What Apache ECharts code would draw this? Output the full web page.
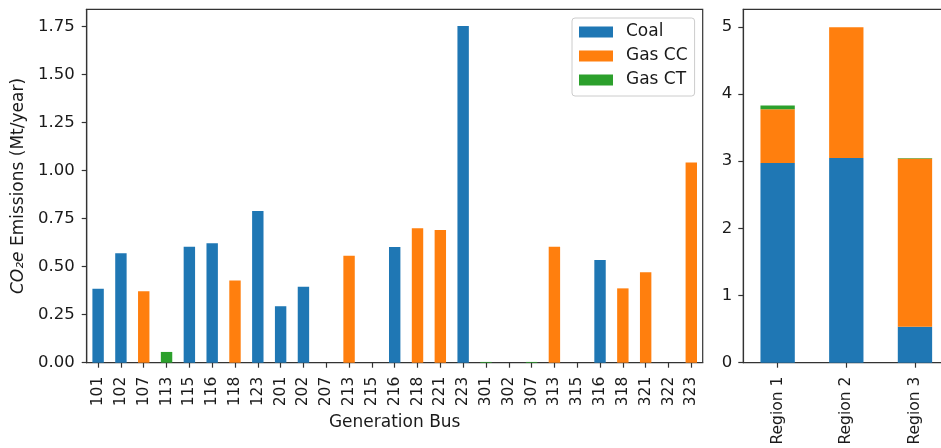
<!DOCTYPE html>
<html>
<head>
<meta charset="utf-8">
<script src="https://cdn.jsdelivr.net/npm/echarts@6/dist/echarts.min.js"></script>
<style>
  html, body { margin: 0; padding: 0; background: #fff; }
  #chart { width: 941px; height: 448px; }
</style>
</head>
<body>
<div id="chart"></div>
<script>
// Annual CO2e emissions per generation bus (Mt/year), split by unit type
const buses = ['101','102','107','113','115','116','118','123',
               '201','202','207','213','215','216','218','221','223',
               '301','302','307','313','315','316','318','321','322','323'];
const coal  = [0.385, 0.570, 0, 0, 0.604, 0.622, 0, 0.790,
               0.294, 0.396, 0, 0, 0, 0.603, 0, 0, 1.753,
               0, 0, 0, 0, 0, 0.535, 0, 0, 0, 0];
const gasCC = [0, 0, 0.372, 0, 0, 0, 0.428, 0,
               0, 0, 0, 0.557, 0, 0, 0.700, 0.691, 0,
               0, 0, 0, 0.604, 0, 0, 0.387, 0.471, 0, 1.042];
const gasCT = [0, 0, 0, 0.056, 0, 0, 0, 0,
               0, 0, 0, 0, 0, 0, 0, 0, 0,
               0.004, 0, 0.004, 0, 0, 0, 0, 0, 0, 0];

const regions = ['Region 1', 'Region 2', 'Region 3'];
const busTicks = [0, 0.25, 0.5, 0.75, 1.0, 1.25, 1.5, 1.75];
const regionTicks = [0, 1, 2, 3, 4, 5];

const COLORS = { coal: '#1f77b4', cc: '#ff7f0e', ct: '#2ca02c' };
const FONT = 'DejaVu Sans';
const INK = '#1a1a1a';
const LINE = '#333333';

// Sum each unit type over the buses of a region (first digit of bus id)
function regionTotals(values) {
  const totals = regions.map(() => 0);
  buses.forEach((b, i) => { totals[Number(b[0]) - 1] += values[i]; });
  return totals.map(v => +v.toFixed(4));
}

const axisLine = { show: true, lineStyle: { color: LINE, width: 1.2 } };
const axisTick = { show: true, length: 5, lineStyle: { color: LINE, width: 1.2 } };
const labelStyle = { color: INK, fontSize: 16.5, fontFamily: FONT };
const catLabel = { color: INK, fontSize: 15.5, fontFamily: FONT, rotate: 90, interval: 0, margin: 14 };

const chart = echarts.init(document.getElementById('chart'), null, { renderer: 'canvas' });

chart.setOption({
  animation: false,
  backgroundColor: '#fff',
  textStyle: { fontFamily: FONT },
  grid: [
    { left: 86.7, right: 238.3, top: 9.3, bottom: 85.3, show: true,
      borderColor: LINE, borderWidth: 1.2, containLabel: false, outerBoundsMode: 'none' },
    // the regional panel runs past the right edge of the canvas
    { left: 743.3, width: 206, top: 9.3, bottom: 85.3, show: true,
      borderColor: LINE, borderWidth: 1.2, containLabel: false, outerBoundsMode: 'none' }
  ],
  legend: {
    data: ['Coal', 'Gas CC', 'Gas CT'],
    orient: 'vertical',
    left: 572, top: 18,
    icon: 'rect',
    itemWidth: 34, itemHeight: 11, itemGap: 4,
    padding: [4, 7, 6, 7],
    borderColor: '#cccccc', borderWidth: 1, borderRadius: 3,
    backgroundColor: 'rgba(255,255,255,0.85)',
    selectedMode: false,
    textStyle: { color: INK, fontSize: 17, fontFamily: FONT, lineHeight: 20, padding: [0, 0, 0, 8] }
  },
  xAxis: [
    {
      type: 'category', gridIndex: 0, data: buses, boundaryGap: true,
      name: 'Generation Bus', nameLocation: 'middle', nameGap: 44,
      nameTextStyle: { color: INK, fontSize: 17, fontFamily: FONT },
      axisLine, axisTick: Object.assign({ alignWithLabel: true }, axisTick),
      axisLabel: catLabel,
      splitLine: { show: false }
    },
    {
      type: 'category', gridIndex: 1, data: regions, boundaryGap: true,
      axisLine, axisTick: Object.assign({ alignWithLabel: true }, axisTick),
      axisLabel: catLabel,
      splitLine: { show: false }
    }
  ],
  yAxis: [
    {
      type: 'value', gridIndex: 0, min: 0, max: 1.84,
      name: '{it|CO₂e} Emissions (Mt/year)', nameLocation: 'middle', nameGap: 53,
      nameTextStyle: {
        color: INK, fontSize: 17, fontFamily: FONT,
        rich: { it: { fontStyle: 'italic', fontSize: 17, fontFamily: FONT, color: INK } }
      },
      axisLine,
      axisTick: Object.assign({ customValues: busTicks }, axisTick),
      axisLabel: Object.assign({ customValues: busTicks, margin: 12,
        formatter: v => v.toFixed(2) }, labelStyle),
      splitLine: { show: false }
    },
    {
      type: 'value', gridIndex: 1, min: 0, max: 5.26,
      axisLine,
      axisTick: Object.assign({ customValues: regionTicks }, axisTick),
      axisLabel: Object.assign({ customValues: regionTicks, margin: 11,
        formatter: v => String(v) }, labelStyle),
      splitLine: { show: false }
    }
  ],
  series: [
    { name: 'Coal', type: 'bar', stack: 'bus', xAxisIndex: 0, yAxisIndex: 0,
      barWidth: '50%', data: coal, itemStyle: { color: COLORS.coal } },
    { name: 'Gas CC', type: 'bar', stack: 'bus', xAxisIndex: 0, yAxisIndex: 0,
      barWidth: '50%', data: gasCC, itemStyle: { color: COLORS.cc } },
    { name: 'Gas CT', type: 'bar', stack: 'bus', xAxisIndex: 0, yAxisIndex: 0,
      barWidth: '50%', data: gasCT, itemStyle: { color: COLORS.ct } },

    { name: 'Coal', type: 'bar', stack: 'region', xAxisIndex: 1, yAxisIndex: 1,
      barWidth: '50%', data: regionTotals(coal), itemStyle: { color: COLORS.coal } },
    { name: 'Gas CC', type: 'bar', stack: 'region', xAxisIndex: 1, yAxisIndex: 1,
      barWidth: '50%', data: regionTotals(gasCC), itemStyle: { color: COLORS.cc } },
    { name: 'Gas CT', type: 'bar', stack: 'region', xAxisIndex: 1, yAxisIndex: 1,
      barWidth: '50%', data: regionTotals(gasCT), itemStyle: { color: COLORS.ct } }
  ]
});
</script>
</body>
</html>
